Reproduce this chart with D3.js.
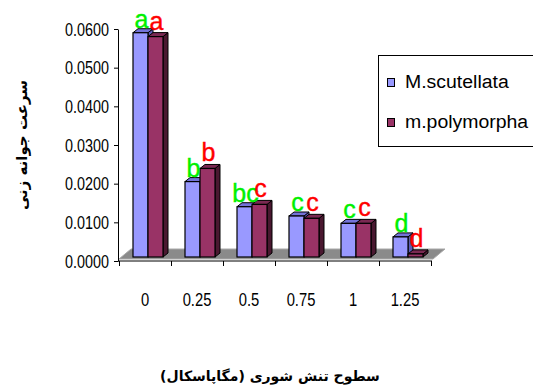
<!DOCTYPE html>
<html><head><meta charset="utf-8">
<script src="https://cdn.jsdelivr.net/npm/d3@7"></script>
<style>body{margin:0;background:#fff}svg{display:block}</style>
</head><body>
<svg id="c" width="533" height="387"></svg>
<script>
const categories = ["0", "0.25", "0.5", "0.75", "1", "1.25"];
const seriesNames = ["M.scutellata", "m.polymorpha"];
const scutellata = [0.0580, 0.0195, 0.0130, 0.0106, 0.0087, 0.0052];
const polymorpha = [0.0570, 0.0229, 0.0136, 0.0100, 0.0087, 0.0008];
const lettersScut = ["a", "b", "bc", "c", "c", "d"];
const lettersPoly = ["a", "b", "c", "c", "c", "d"];
const yTicks = [0, 0.01, 0.02, 0.03, 0.04, 0.05, 0.06];
const yTitle = "سرعت جوانه زنی";
const xTitle = "سطوح تنش شوری (مگاپاسکال)";

const seriesValues = [scutellata, polymorpha];
const seriesLetters = [lettersScut, lettersPoly];
const colors = [
  {front: "#9999ff", top: "#7373d9", side: "#5c5cb8"},
  {front: "#993366", top: "#7a2952", side: "#4a1830"}
];
const letterColors = ["#00f000", "#ff0000"];
const sans = "'Liberation Sans',Arial,sans-serif";

function condense(sel, ratio) {
  sel.each(function () {
    const w = this.getComputedTextLength();
    d3.select(this).attr("textLength", w * ratio).attr("lengthAdjust", "spacingAndGlyphs");
  });
}

const svg = d3.select("#c");
const y = d3.scaleLinear().domain([0, 0.06]).range([261, 29]);
const x0 = d3.scaleBand().domain(categories).range([119, 431]);
const x1 = d3.scaleBand().domain(seriesNames).range([14, 44]);
const dx = 5, dy = -4, lift = -4;
const fdx = 12, fdy = -10;

// floor
const L = x0.range()[0], R = x0.range()[1], y0 = y(0);
svg.append("polygon")
  .attr("points", [[L, y0 - 2], [R + 2, y0 - 2], [R + 2 + fdx, y0 - 2 + fdy], [L + fdx, y0 - 2 + fdy]].map(p => p.join(",")).join(" "))
  .attr("fill", "#8a8a8a").attr("stroke", "#a8a8a8").attr("stroke-width", 1);

// bars
categories.forEach((c, i) => {
  seriesNames.forEach((s, k) => {
    const v = seriesValues[k][i];
    const xl = x0(c) + x1(s), w = x1.bandwidth();
    const yt = y(v) + lift, yb = y(0) + lift;
    const g = svg.append("g");
    const col = colors[k];
    g.append("polygon").attr("points", [[xl + w, yt], [xl + w + dx, yt + dy], [xl + w + dx, yb + dy], [xl + w, yb]].map(p => p.join(",")).join(" "))
      .attr("fill", col.side).attr("stroke", "#000").attr("stroke-width", 1).attr("stroke-linejoin", "round");
    g.append("polygon").attr("points", [[xl, yt], [xl + dx, yt + dy], [xl + w + dx, yt + dy], [xl + w, yt]].map(p => p.join(",")).join(" "))
      .attr("fill", col.top).attr("stroke", "#000").attr("stroke-width", 1).attr("stroke-linejoin", "round");
    g.append("rect").attr("x", xl).attr("y", yt).attr("width", w).attr("height", yb - yt)
      .attr("fill", col.front).attr("stroke", "#000").attr("stroke-width", 1.2);
  });
});

// letters
const letterOffsets = [5, 7];
categories.forEach((c, i) => {
  seriesNames.forEach((s, k) => {
    const v = seriesValues[k][i];
    svg.append("text")
      .attr("x", x0(c) + x1(s) + x1.bandwidth() / 2 + 1)
      .attr("y", y(v) + lift - letterOffsets[k])
      .attr("text-anchor", "middle")
      .attr("font-family", sans)
      .attr("font-size", 25)
      .attr("fill", letterColors[k])
      .attr("stroke", letterColors[k]).attr("stroke-width", 0.4)
      .text(seriesLetters[k][i]);
  });
});

// y axis
const ya = svg.append("g").attr("transform", "translate(118,0)")
  .call(d3.axisLeft(y).tickValues(yTicks).tickFormat(d3.format(".4f")).tickSize(4).tickSizeOuter(0).tickPadding(5));
ya.select(".domain").attr("stroke", "#000");
ya.selectAll(".tick line").attr("stroke", "#000");
ya.selectAll("text").attr("font-family", sans).attr("font-size", 17.5).attr("fill", "#000").attr("dy", "0.36em");
condense(ya.selectAll("text"), 0.82);

// x axis
const xa = svg.append("g");
xa.append("line").attr("x1", 118).attr("x2", R + 1).attr("y1", y0).attr("y2", y0).attr("stroke", "#000");
const bounds = categories.map(c => x0(c)).concat([R]);
xa.selectAll("line.t").data(bounds).enter().append("line")
  .attr("x1", d => d + 0.5).attr("x2", d => d + 0.5).attr("y1", y0).attr("y2", y0 + 5).attr("stroke", "#000");
const xl = xa.selectAll("text").data(categories).enter().append("text")
  .attr("x", d => x0(d) + x0.bandwidth() / 2)
  .attr("y", 306)
  .attr("text-anchor", "middle")
  .attr("font-family", sans).attr("font-size", 18).attr("fill", "#000")
  .text(d => d);
condense(xl, 0.82);

// legend
const lg = svg.append("g");
lg.append("rect").attr("x", 378.5).attr("y", 55.5).attr("width", 200).attr("height", 91)
  .attr("fill", "#fff").attr("stroke", "#000").attr("stroke-width", 1);
seriesNames.forEach((s, k) => {
  const yy = [78, 118][k];
  lg.append("rect").attr("x", 387.5).attr("y", yy + 0.5).attr("width", 7).attr("height", 8)
    .attr("fill", colors[k].front).attr("stroke", "#000").attr("stroke-width", 1);
  const t = lg.append("text").attr("x", 405).attr("y", yy + 10)
    .attr("font-family", sans).attr("font-size", 18).attr("fill", "#000")
    .text(s);
  condense(t, 1.08);
});

// titles
svg.append("text")
  .attr("transform", "translate(27,145) rotate(-90)")
  .attr("text-anchor", "middle")
  .attr("font-family", "'DejaVu Sans','Noto Sans',sans-serif").attr("font-weight", "bold").attr("font-size", 15)
  .attr("fill", "#000")
  .text(yTitle);
svg.append("text")
  .attr("x", 270).attr("y", 381)
  .attr("text-anchor", "middle")
  .attr("font-family", "'DejaVu Sans','Noto Sans',sans-serif").attr("font-weight", "bold").attr("font-size", 14)
  .attr("fill", "#000")
  .text(xTitle);
</script>
</body></html>
